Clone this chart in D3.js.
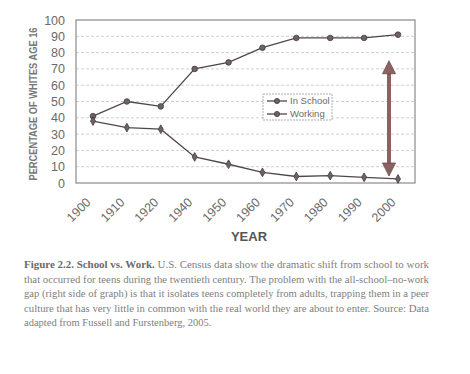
<!DOCTYPE html>
<html>
<head>
<meta charset="utf-8">
<script src="https://cdn.jsdelivr.net/npm/d3@7"></script>
<style>
  body { margin: 0; background: #fff; }
  svg { display: block; }
</style>
</head>
<body>
<div id="graph"></div>
<script>
// données
const annees = ["1900", "1910", "1920", "1940", "1950", "1960", "1970", "1980", "1990", "2000"];
const enEcole = [41, 50, 47, 70, 74, 83, 89, 89, 89, 91];
const auTravail = [38, 34, 33, 16, 11.5, 6.5, 4, 4.5, 3.5, 2.5];
const yTicks = [0, 10, 20, 30, 40, 50, 60, 70, 80, 90, 100];
const legende = ["In School", "Working"];
const legende_texte = [
    "Figure 2.2. School vs. Work. U.S. Census data show the dramatic shift from school to work",
    "that occurred for teens during the twentieth century. The problem with the all-school–no-work",
    "gap (right side of graph) is that it isolates teens completely from adults, trapping them in a peer",
    "culture that has very little in common with the real world they are about to enter. Source: Data",
    "adapted from Fussell and Furstenberg, 2005."
];

let W = 470, H = 374;
let margin = { top: 20, right: 55, bottom: 191, left: 76 };
let width = W - margin.left - margin.right,
    height = H - margin.top - margin.bottom;

let svg = d3.select("#graph")
    .append("svg")
    .attr("width", W)
    .attr("height", H);

let g = svg.append("g")
    .attr("transform", "translate(" + margin.left + "," + margin.top + ")");

let x = d3.scalePoint()
    .domain(annees)
    .range([17, width - 17]);

let y = d3.scaleLinear()
    .domain([0, 100])
    .range([height, 0]);

// quadrillage
g.selectAll(".grid")
    .data(yTicks.slice(1, -1))
    .enter().append("line")
    .attr("x1", 0)
    .attr("x2", width)
    .attr("y1", d => y(d))
    .attr("y2", d => y(d))
    .attr("stroke", "#d0d0d0")
    .attr("stroke-width", 1)
    .attr("stroke-dasharray", "3,2");

// cadre
g.append("rect")
    .attr("width", width)
    .attr("height", height)
    .attr("fill", "none")
    .attr("stroke", "#8a8a8a")
    .attr("stroke-width", 1.2);

// axe y
let yAxis = g.append("g")
    .call(d3.axisLeft(y).tickValues(yTicks).tickSize(0).tickPadding(11));
yAxis.select(".domain").remove();
yAxis.selectAll("text")
    .style("font-family", "Liberation Sans, Arial, sans-serif")
    .style("font-size", "12.5px")
    .attr("fill", "#6a6a6a");

// axe x
let xAxis = g.append("g")
    .attr("transform", "translate(0," + height + ")")
    .call(d3.axisBottom(x).tickSize(0));
xAxis.select(".domain").remove();
xAxis.selectAll("text")
    .style("font-family", "Liberation Sans, Arial, sans-serif")
    .style("font-size", "12.5px")
    .attr("fill", "#6a6a6a")
    .attr("text-anchor", "end")
    .attr("x", 0)
    .attr("y", 0)
    .attr("dy", "0")
    .attr("transform", "translate(-2,20) rotate(-45)");

// titres des axes
svg.append("text")
    .text("YEAR")
    .attr("x", 249)
    .attr("y", 241)
    .attr("text-anchor", "middle")
    .style("font-family", "Liberation Sans, Arial, sans-serif")
    .style("font-weight", "bold")
    .style("font-size", "13px")
    .attr("fill", "#555");

svg.append("text")
    .text("PERCENTAGE OF WHITES AGE 16")
    .attr("transform", "translate(37,104) rotate(-90)")
    .attr("text-anchor", "middle")
    .attr("textLength", 153)
    .attr("lengthAdjust", "spacingAndGlyphs")
    .style("font-family", "Liberation Sans, Arial, sans-serif")
    .style("font-weight", "bold")
    .style("font-size", "10px")
    .attr("fill", "#777");

// lignes
let ligne = d3.line()
    .x((d, i) => x(annees[i]))
    .y(d => y(d));

let couleur = "#4f4848";

g.append("path")
    .datum(enEcole)
    .attr("d", ligne)
    .attr("fill", "none")
    .attr("stroke", couleur)
    .attr("stroke-width", 1.3);

g.append("path")
    .datum(auTravail)
    .attr("d", ligne)
    .attr("fill", "none")
    .attr("stroke", couleur)
    .attr("stroke-width", 1.3);

g.selectAll(".pt-ecole")
    .data(enEcole)
    .enter().append("circle")
    .attr("cx", (d, i) => x(annees[i]))
    .attr("cy", d => y(d))
    .attr("r", 2.8)
    .attr("fill", "#6e6262")
    .attr("stroke", "#463c3c")
    .attr("stroke-width", 0.8);

let diamant = d3.symbol().type(d3.symbolDiamond).size(22);
g.selectAll(".pt-travail")
    .data(auTravail)
    .enter().append("path")
    .attr("d", diamant)
    .attr("transform", (d, i) => "translate(" + x(annees[i]) + "," + y(d) + ")")
    .attr("fill", "#6e6262")
    .attr("stroke", "#463c3c")
    .attr("stroke-width", 0.8);

// flèche double
let fx = x("2000") - 9;
let fy1 = y(75), fy2 = y(4.3);
let fleche = "#8a6262";
g.append("line")
    .attr("x1", fx).attr("x2", fx)
    .attr("y1", fy1 + 10).attr("y2", fy2 - 10)
    .attr("stroke", fleche)
    .attr("stroke-width", 4);
g.append("path")
    .attr("d", "M" + fx + "," + fy1 + " L" + (fx - 6.5) + "," + (fy1 + 13) + " L" + (fx + 6.5) + "," + (fy1 + 13) + "Z")
    .attr("fill", fleche).attr("stroke", "#6e4c4c").attr("stroke-width", 0.8);
g.append("path")
    .attr("d", "M" + fx + "," + fy2 + " L" + (fx - 6.5) + "," + (fy2 - 13) + " L" + (fx + 6.5) + "," + (fy2 - 13) + "Z")
    .attr("fill", fleche).attr("stroke", "#6e4c4c").attr("stroke-width", 0.8);

// légende
let leg = svg.append("g")
    .attr("transform", "translate(263,94)");
leg.append("rect")
    .attr("width", 69)
    .attr("height", 26)
    .attr("fill", "#fff")
    .attr("stroke", "#b0b0b0")
    .attr("stroke-dasharray", "2,1");

let items = leg.selectAll(".legend")
    .data(legende)
    .enter().append("g")
    .attr("transform", (d, i) => "translate(0," + (7 + i * 13) + ")");
items.append("line")
    .attr("x1", 4).attr("x2", 24)
    .attr("stroke", couleur).attr("stroke-width", 1.3);
items.append("circle")
    .attr("cx", 14).attr("r", 2.6)
    .attr("fill", "#6e6262").attr("stroke", "#463c3c").attr("stroke-width", 0.8);
items.append("text")
    .text(d => d)
    .attr("x", 27)
    .attr("dy", "0.35em")
    .style("font-family", "Liberation Sans, Arial, sans-serif")
    .style("font-size", "9.5px")
    .attr("fill", "#6a6a6a");

// légende de la figure
svg.append("g")
    .selectAll("text")
    .data(legende_texte)
    .enter().append("text")
    .attr("x", 24)
    .attr("y", (d, i) => 268 + i * 14.5)
    .attr("textLength", (d, i) => i < 4 ? 405 : null)
    .attr("lengthAdjust", "spacingAndGlyphs")
    .style("font-family", "Liberation Serif, Times New Roman, serif")
    .style("font-size", "10.5px")
    .attr("fill", "#808080")
    .each(function (d, i) {
        let t = d3.select(this);
        if (i === 0) {
            t.append("tspan").text("Figure 2.2. School vs. Work.").style("font-weight", "bold").attr("fill", "#6a6a6a");
            t.append("tspan").text(" " + d.slice("Figure 2.2. School vs. Work.".length + 1));
        } else {
            t.text(d);
        }
    });
</script>
</body>
</html>
